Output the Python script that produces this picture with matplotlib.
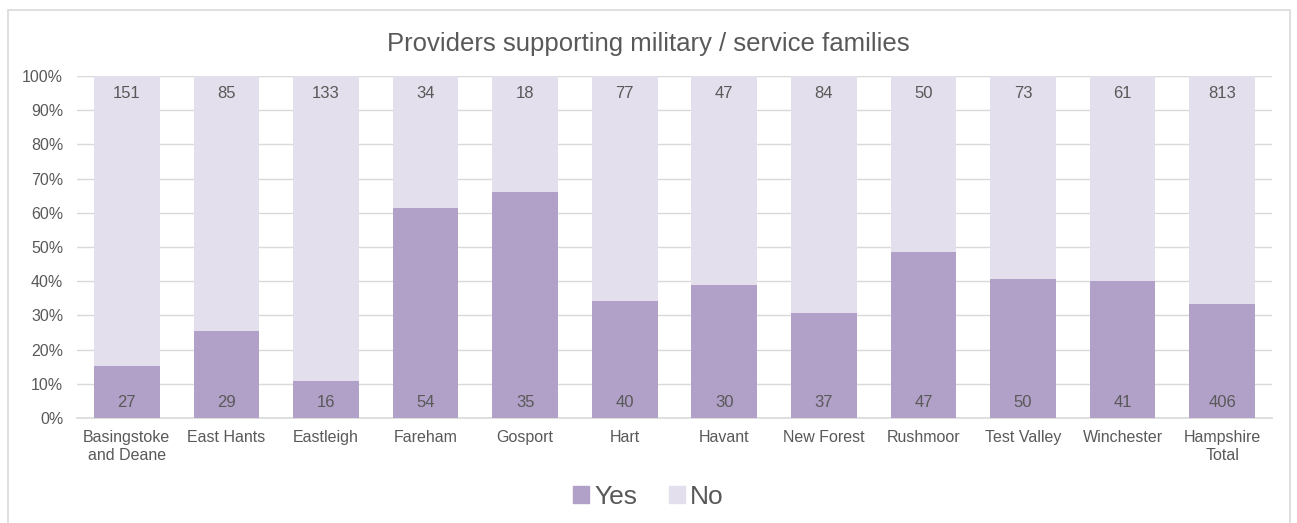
import numpy as np
import matplotlib
matplotlib.use("Agg")
import matplotlib.pyplot as plt
from matplotlib.patches import Rectangle, Patch

plt.rcParams["font.family"] = ["Liberation Sans", "DejaVu Sans"]

categories = ["Basingstoke\nand Deane", "East Hants", "Eastleigh", "Fareham", "Gosport",
              "Hart", "Havant", "New Forest", "Rushmoor", "Test Valley", "Winchester",
              "Hampshire\nTotal"]
yes_counts = [27, 29, 16, 54, 35, 40, 30, 37, 47, 50, 41, 406]
no_counts = [151, 85, 133, 34, 18, 77, 47, 84, 50, 73, 61, 813]

C_YES = "#b1a0c7"
C_NO = "#e4dfec"
C_TXT = "#595959"
C_GRID = "#d9d9d9"

yes = np.array(yes_counts, dtype=float)
no = np.array(no_counts, dtype=float)
tot = yes + no
yes_pct = yes / tot * 100
no_pct = no / tot * 100

fig = plt.figure(figsize=(12.97, 5.23), dpi=100)
ax = fig.add_axes([0.0594, 0.2008, 0.9213, 0.6539])

# chart border
fig.patches.append(Rectangle((8 / 1297, -0.1), (1290 - 8) / 1297, 1 - 10 / 523 + 0.1,
                             transform=fig.transFigure, fill=False, edgecolor=C_GRID, lw=1.2))

x = np.arange(len(categories))
w = 0.66
ax.bar(x, yes_pct, w, color=C_YES, zorder=3)
ax.bar(x, no_pct, w, bottom=yes_pct, color=C_NO, zorder=3)

for i in range(len(categories)):
    ax.text(x[i], 4.5, f"{yes_counts[i]}", ha="center", va="center", fontsize=12, color=C_TXT, zorder=4)
    ax.text(x[i], 95, f"{no_counts[i]}", ha="center", va="center", fontsize=12, color=C_TXT, zorder=4)

ax.set_xlim(-0.5, len(categories) - 0.5)
ax.set_ylim(0, 100)
ax.set_yticks(np.arange(0, 101, 10))
ax.set_yticklabels([f"{v}%" for v in range(0, 101, 10)])
ax.set_xticks(x)
ax.set_xticklabels(categories, linespacing=1.2)
ax.tick_params(axis="both", length=0, labelsize=11.5, colors=C_TXT)
ax.tick_params(axis="y", pad=10)
ax.tick_params(axis="x", pad=9)
ax.grid(axis="y", color=C_GRID, lw=1.0, zorder=0)
for s in ["top", "right", "left"]:
    ax.spines[s].set_visible(False)
ax.spines["bottom"].set_color(C_GRID)
ax.spines["bottom"].set_linewidth(1.2)

fig.text(0.5, 1 - 44 / 523, "Providers supporting military / service families",
         ha="center", va="center", fontsize=18.5, color=C_TXT)

handles = [Patch(color=C_YES, label="Yes"), Patch(color=C_NO, label="No")]
fig.legend(handles=handles, loc="center", bbox_to_anchor=(0.5, 1 - 497 / 523), ncol=2,
           frameon=False, fontsize=19, labelcolor=C_TXT, handlelength=0.6, handleheight=0.6,
           handletextpad=0.2, columnspacing=1.2)

fig.savefig("out.png", dpi=100)
